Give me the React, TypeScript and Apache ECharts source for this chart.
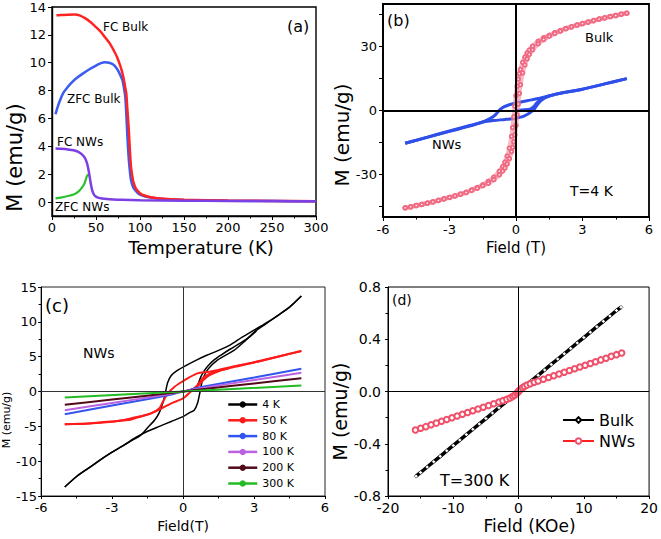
import React, { useEffect, useRef } from "react";
import * as echarts from "echarts";

type P = [number, number];
const FONT = "DejaVu Sans";

// ---------- Panel (a): M vs Temperature ----------
const aFcBulk: P[] = [[5,13.4],[10,13.42],[18,13.45],[26,13.46],[32,13.38],[38,13.18],[44,12.9],[50,12.55],[55,12.25],[60,11.85],[66,11.35],[70,10.9],[74,10.4],[78,9.7],[81,9.0],[83,8.3],[84.4,7.8],[85.5,6.8],[87,5.45],[88,4.3],[88.9,3.3],[90,2.4],[91.9,1.6],[94,1.15],[96,0.9],[100,0.64],[105,0.47],[112,0.35],[120,0.28],[135,0.21],[150,0.17],[200,0.11],[250,0.08],[300,0.06]];
const aZfcBulk: P[] = [[4,6.3],[6,6.75],[9.5,7.36],[13,7.85],[17,8.19],[22,8.55],[28,8.9],[35,9.22],[43,9.55],[50,9.8],[55,9.95],[60,10.03],[65,10.0],[70,9.85],[74,9.55],[77,9.2],[80,8.75],[81.5,8.3],[83.2,7.6],[84.2,6.6],[85.1,5.45],[86,4.3],[87,3.3],[88.2,2.4],[89.7,1.6],[92,1.1],[94.6,0.85],[98,0.62],[102,0.48],[110,0.34],[120,0.26],[135,0.19],[150,0.15],[200,0.1],[250,0.07],[300,0.05]];
const aFcNws: P[] = [[4,3.84],[10,3.82],[18,3.78],[24.5,3.72],[30,3.6],[34,3.42],[37,3.2],[39.7,2.82],[41.5,2.3],[42.7,1.86],[44,1.35],[45.4,0.91],[47,0.62],[49,0.43],[53,0.3],[62,0.22],[80,0.16],[100,0.13],[150,0.1],[200,0.08],[250,0.07],[300,0.06]];
const aZfcNws: P[] = [[4,0.26],[10,0.32],[17,0.42],[24.5,0.55],[30,0.75],[34,1.03],[37,1.35],[39.7,1.86],[41,1.95],[42.7,1.86]];
const aYLabels = [0, 2, 4, 6, 8, 10, 12, 14];

// ---------- Panel (b): hysteresis at 4 K ----------
const bBulkDown: P[] = [[5,45.7],[4.75,45.2],[4.5,44.6],[4.25,44.1],[4,43.5],[3.75,42.9],[3.5,42.2],[3.25,41.5],[3,40.8],[2.75,40.1],[2.5,39.3],[2.25,38.5],[2,37.5],[1.75,36.5],[1.5,35.3],[1.25,34.2],[1,32.5],[0.75,30.2],[0.6,28.4],[0.5,27.0],[0.4,25.1],[0.3,22.6],[0.2,19.3],[0.15,17.3],[0.1,14.7],[0.05,11.4],[0,7.0],[-0.05,2.0],[-0.1,-3.0],[-0.15,-8.0],[-0.2,-12.1],[-0.3,-17.7],[-0.4,-21.4],[-0.5,-24.2],[-0.6,-26.3],[-0.75,-28.5],[-1,-31.3],[-1.25,-33.3],[-1.5,-34.9],[-1.75,-36.2],[-2,-37.3],[-2.25,-38.4],[-2.5,-39.3],[-2.75,-40.1],[-3,-40.8],[-3.25,-41.5],[-3.5,-42.2],[-3.75,-42.9],[-4,-43.5],[-4.25,-44.1],[-4.5,-44.6],[-4.75,-45.2],[-5,-45.7]];
const bBulkUp: P[] = [[-5,-45.7],[-4.75,-45.2],[-4.5,-44.6],[-4.25,-44.1],[-4,-43.5],[-3.75,-42.9],[-3.5,-42.2],[-3.25,-41.5],[-3,-40.8],[-2.75,-40.1],[-2.5,-39.3],[-2.25,-38.5],[-2,-37.5],[-1.75,-36.5],[-1.5,-35.3],[-1.25,-34.2],[-1,-32.5],[-0.75,-30.2],[-0.6,-28.4],[-0.5,-27.0],[-0.4,-25.1],[-0.3,-22.6],[-0.2,-19.3],[-0.15,-17.3],[-0.1,-14.7],[-0.05,-11.4],[0,-7.0],[0.05,-2.0],[0.1,3.0],[0.15,8.0],[0.2,12.1],[0.3,17.7],[0.4,21.4],[0.5,24.2],[0.6,26.3],[0.75,28.5],[1,31.3],[1.25,33.3],[1.5,34.9],[1.75,36.2],[2,37.3],[2.25,38.4],[2.5,39.3],[2.75,40.1],[3,40.8],[3.25,41.5],[3.5,42.2],[3.75,42.9],[4,43.5],[4.25,44.1],[4.5,44.6],[4.75,45.2],[5,45.7]];
const bNwDown: P[] = [[5,14.95],[4,12.5],[3,10.0],[2,8.1],[1.5,6.9],[1,5.6],[0.5,4.6],[0,3.5],[-0.3,2.7],[-0.57,1.6],[-0.7,0.6],[-0.8,-0.5],[-0.9,-1.7],[-1.02,-2.8],[-1.2,-3.9],[-1.47,-5.2],[-2,-6.8],[-3,-9.6],[-4,-12.5],[-5,-15.4]];
const bNwUp: P[] = [[-5,-15.4],[-4,-12.6],[-3,-9.8],[-2,-7.1],[-1.47,-5.4],[-1,-4.7],[-0.5,-4.2],[0,-3.6],[0.3,-2.9],[0.5,-1.9],[0.65,-0.9],[0.8,0.4],[0.9,1.8],[1.0,3.2],[1.1,4.4],[1.3,5.9],[1.55,6.9],[2,8.1],[3,10.0],[4,12.5],[5,14.95]];
const bNwVirgin: P[] = [[0,0],[0.33,0.3],[0.63,0.6],[0.8,1.8],[0.93,3.5],[1.05,4.6],[1.23,5.8],[1.5,6.8]];
const bYLabels = [-30, 0, 30];
const bYTicks = [-45, -30, -15, 0, 15, 30, 45];

// ---------- Panel (c): NWs loops at several temperatures ----------
const c4Down: P[] = [[5,13.7],[4.5,12.1],[4,10.9],[3.5,9.8],[3,8.8],[2.5,7.8],[2,6.7],[1.5,5.9],[1,5.2],[0.5,4.4],[0,3.5],[-0.3,2.9],[-0.5,2.3],[-0.65,1.3],[-0.75,-0.2],[-0.85,-1.6],[-1,-3.0],[-1.2,-4.1],[-1.5,-5.2],[-1.8,-6.3],[-2.2,-7.1],[-2.6,-7.9],[-3,-8.7],[-3.5,-9.8],[-4,-11.0],[-4.5,-12.2],[-5,-13.7]];
const c4Up: P[] = [[-5,-13.7],[-4.5,-12.2],[-4,-11.0],[-3.5,-9.8],[-3,-8.7],[-2.5,-7.7],[-2,-6.6],[-1.5,-5.7],[-1,-5.0],[-0.5,-4.3],[0,-3.6],[0.3,-3.0],[0.47,-2.7],[0.61,-1.7],[0.72,0],[0.82,1.6],[1.03,3.1],[1.45,4.5],[2.15,5.9],[2.6,7.2],[3,8.5],[3.5,9.7],[4,10.9],[4.5,12.1],[5,13.7]];
const c4Virgin: P[] = [[0,0],[0.33,0.25],[0.55,0.6],[0.65,1.2],[0.75,2.1],[0.88,2.9],[1.03,3.6],[1.3,4.5],[1.59,5.2],[2,6.1],[2.4,6.9],[2.8,7.8],[3.1,8.7]];
const c50Down: P[] = [[5,5.8],[4,5.0],[3,4.2],[2,3.5],[1.45,3.05],[1,2.8],[0.61,2.6],[0.19,1.9],[0,1.5],[-0.37,0.66],[-0.65,-0.3],[-0.86,-1.5],[-1,-2.4],[-1.35,-3.15],[-2,-3.8],[-2.33,-4.1],[-3,-4.3],[-3.45,-4.4],[-4,-4.6],[-5,-4.7]];
const c50Up: P[] = [[-5,-4.7],[-4,-4.6],[-3,-4.35],[-2.5,-4.1],[-2,-3.7],[-1.5,-3.3],[-1,-2.6],[-0.5,-1.7],[0,-1.0],[0.33,0],[0.61,0.9],[0.89,2.1],[1.31,2.8],[2,3.4],[3,4.15],[4,5.0],[5,5.8]];
const c50Virgin: P[] = [[0,0],[0.3,0.2],[0.6,0.7],[0.85,1.6],[1.1,2.3],[1.5,2.9],[2,3.4]];
const c80: P[] = [[-5,-3.25],[-3,-2.0],[-1,-0.8],[-0.5,-0.45],[0,0],[0.5,0.45],[1,0.8],[3,2.0],[5,3.25]];
const c100: P[] = [[-5,-2.7],[-3,-1.65],[-1,-0.6],[0,0],[1,0.6],[3,1.65],[5,2.7]];
const c200: P[] = [[-5,-1.9],[-3,-1.15],[-1,-0.4],[0,0],[1,0.4],[3,1.15],[5,1.9]];
const c300: P[] = [[-5,-0.85],[0,0],[5,0.85]];
const cLegend = ["4 K", "50 K", "80 K", "100 K", "200 K", "300 K"];

// ---------- Panel (d): room temperature M(H) ----------
const dBulk: P[] = [[-15.7,-0.648],[-15,-0.62],[-14,-0.578],[-13,-0.537],[-12,-0.496],[-11,-0.454],[-10,-0.413],[-9,-0.372],[-8,-0.33],[-7,-0.289],[-6,-0.248],[-5,-0.207],[-4,-0.165],[-3,-0.124],[-2,-0.083],[-1,-0.041],[0,0],[1,0.041],[2,0.083],[3,0.124],[4,0.165],[5,0.207],[6,0.248],[7,0.289],[8,0.33],[9,0.372],[10,0.413],[11,0.454],[12,0.496],[13,0.537],[14,0.578],[15,0.62],[15.7,0.645]];
const dNws: P[] = [[-15.8,-0.295],[-15,-0.282],[-14.2,-0.269],[-13.4,-0.255],[-12.6,-0.242],[-11.8,-0.228],[-11,-0.215],[-10.2,-0.201],[-9.4,-0.188],[-8.6,-0.174],[-7.8,-0.161],[-7,-0.148],[-6.2,-0.134],[-5.4,-0.121],[-4.6,-0.107],[-3.8,-0.094],[-3,-0.08],[-2.4,-0.07],[-1.8,-0.06],[-1.3,-0.05],[-0.9,-0.039],[-0.6,-0.029],[-0.3,-0.016],[-0.1,-0.005],[0,0],[0.1,0.005],[0.3,0.016],[0.6,0.029],[0.9,0.039],[1.3,0.05],[1.8,0.06],[2.4,0.07],[3,0.08],[3.8,0.094],[4.6,0.107],[5.4,0.121],[6.2,0.134],[7,0.148],[7.8,0.161],[8.6,0.174],[9.4,0.188],[10.2,0.201],[11,0.215],[11.8,0.228],[12.6,0.242],[13.4,0.255],[14.2,0.269],[15,0.282],[15.8,0.295]];
const dLegend = ["Bulk", "NWs"];

function axis(o: any) {
  return {
    type: "value",
    gridIndex: o.grid,
    min: o.min,
    max: o.max,
    interval: o.interval,
    name: o.name,
    nameLocation: "middle",
    nameGap: o.nameGap,
    nameRotate: o.rotate ? 90 : 0,
    nameTextStyle: { fontFamily: FONT, fontSize: o.nameSize, fontWeight: "normal", color: "#000", padding: o.namePad || 0 },
    axisLine: { show: true, onZero: false, lineStyle: { color: "#000", width: o.lw || 1.2 } },
    axisTick: { show: true, length: o.tickLen || 4, lineStyle: { color: "#000", width: 1 }, ...(o.tickValues ? { customValues: o.tickValues } : {}) },
    minorTick: { show: !!o.minor, splitNumber: 2, length: 2.5, lineStyle: { color: "#000", width: 1 } },
    splitLine: { show: false },
    axisLabel: {
      color: "#000",
      fontFamily: FONT,
      fontSize: o.fontSize,
      fontWeight: "normal",
      margin: o.margin,
      ...(o.labelValues ? { customValues: o.labelValues } : {}),
      ...(o.formatter ? { formatter: o.formatter } : {}),
    },
  };
}

function line(name: string, data: P[], idx: number, color: string, width: number, extra: any = {}) {
  return {
    type: "line",
    name,
    data,
    xAxisIndex: idx,
    yAxisIndex: idx,
    symbol: "none",
    showSymbol: false,
    smooth: 0.25,
    lineStyle: { color, width },
    itemStyle: { color },
    emphasis: { disabled: true },
    z: 3,
    ...extra,
  };
}

function zeroLines(idx: number, width: number, color: string) {
  return {
    type: "line",
    name: "_zero" + idx,
    data: [],
    xAxisIndex: idx,
    yAxisIndex: idx,
    z: 1,
    markLine: {
      silent: true,
      symbol: ["none", "none"],
      label: { show: false },
      emphasis: { disabled: true },
      lineStyle: { color, width, type: "solid" },
      data: [{ xAxis: 0 }, { yAxis: 0 }],
    },
  };
}

function txt(text: string, x: number, y: number, size: number) {
  return {
    type: "text",
    x,
    y,
    style: { text, fontFamily: FONT, fontSize: size, fill: "#000", textAlign: "left", align: "left", textVerticalAlign: "middle", verticalAlign: "middle" },
  };
}

export default function App() {
  const ref = useRef<HTMLDivElement>(null);
  useEffect(() => {
    if (!ref.current) return;
    const chart = echarts.init(ref.current, undefined, { renderer: "svg" });
    const red = "#ff2424";
    const blueA = "#3a5cf2";
    const purpleA = "#7b3fe4";
    const greenA = "#2ec02e";
    const bulkSym = { symbol: "emptyCircle", showSymbol: true, symbolSize: 3.5, itemStyle: { color: "#f06a82", borderWidth: 0.9 } };
    const option: any = {
      animation: false,
      backgroundColor: "#fff",
      grid: [
        { left: 52, top: 7, width: 264, height: 209, show: true, borderColor: "#000", borderWidth: 1.4, backgroundColor: "transparent" },
        { left: 383, top: 4, width: 266, height: 213, show: true, borderColor: "#000", borderWidth: 1.8, backgroundColor: "transparent" },
        { left: 39, top: 287, width: 286, height: 209, show: true, borderColor: "#222", borderWidth: 1, backgroundColor: "transparent" },
        { left: 388, top: 287, width: 263, height: 209, show: true, borderColor: "#000", borderWidth: 1, backgroundColor: "transparent" },
      ],
      xAxis: [
        axis({ grid: 0, min: 0, max: 300, interval: 50, minor: true, fontSize: 13, margin: 5, name: "Temperature (K)", nameSize: 18, nameGap: 22, lw: 1.4, namePad: [0, 0, 0, 34] }),
        axis({ grid: 1, min: -6, max: 6, interval: 3, minor: true, fontSize: 13, margin: 6, name: "Field (T)", nameSize: 15, nameGap: 23, lw: 1.8 }),
        axis({ grid: 2, min: -6, max: 6, interval: 3, minor: true, fontSize: 13, margin: 5, name: "Field(T)", nameSize: 14, nameGap: 23, lw: 1, tickLen: 3 }),
        axis({ grid: 3, min: -20, max: 20, interval: 10, minor: true, fontSize: 14, margin: 5, name: "Field (KOe)", nameSize: 17, nameGap: 21, lw: 1, tickLen: 3, namePad: [0, 0, 0, 22] }),
      ],
      yAxis: [
        axis({ grid: 0, min: -1, max: 14, fontSize: 13, margin: 6, name: "M (emu/g)", nameSize: 21, nameGap: 24, rotate: true, lw: 1.4, labelValues: aYLabels, tickValues: aYLabels, namePad: [0, 92, 0, 0] }),
        axis({ grid: 1, min: -50, max: 50, fontSize: 13, margin: 6, name: "M (emu/g)", nameSize: 20, nameGap: 23, rotate: true, lw: 1.8, labelValues: bYLabels, tickValues: bYTicks, namePad: [0, 49, 0, 0] }),
        axis({ grid: 2, min: -15, max: 15, interval: 5, minor: true, fontSize: 13, margin: 4, name: "M (emu/g)", nameSize: 11, nameGap: 27, rotate: true, lw: 1, tickLen: 3, namePad: [0, 57, 0, 0] }),
        axis({ grid: 3, min: -0.8, max: 0.8, interval: 0.4, minor: true, fontSize: 14, margin: 7, name: "M (emu/g)", nameSize: 19, nameGap: 29, rotate: true, lw: 1, tickLen: 3, formatter: (v: number) => v.toFixed(1), namePad: [0, 40, 0, 0] }),
      ],
      legend: [
        {
          data: cLegend,
          orient: "vertical",
          left: 222,
          top: 394,
          itemWidth: 29,
          itemHeight: 8,
          itemGap: 4.8,
          textStyle: { fontFamily: FONT, fontSize: 11, color: "#000" },
          lineStyle: { width: 2.5 },
          selectedMode: false,
        },
        {
          data: dLegend,
          orient: "vertical",
          left: 557,
          top: 407,
          itemWidth: 31,
          itemHeight: 7,
          itemGap: 5,
          textStyle: { fontFamily: FONT, fontSize: 16, color: "#000" },
          selectedMode: false,
        },
      ],
      series: [
        // (a)
        line("ZFC Bulk", aZfcBulk, 0, blueA, 2.5),
        line("FC Bulk", aFcBulk, 0, red, 2.5),
        line("ZFC NWs", aZfcNws, 0, greenA, 2.2),
        line("FC NWs", aFcNws, 0, purpleA, 2.5),
        // (b)
        zeroLines(1, 2, "#000"),
        line("NWs 4K down", bNwDown, 1, "#2f4fe8", 3),
        line("NWs 4K up", bNwUp, 1, "#2f4fe8", 3),
        line("NWs 4K virgin", bNwVirgin, 1, "#2f4fe8", 3),
        line("Bulk 4K down", bBulkDown, 1, "rgba(244,140,160,0.6)", 4.5, bulkSym),
        line("Bulk 4K up", bBulkUp, 1, "rgba(244,140,160,0.6)", 4.5, bulkSym),
        // (c)
        zeroLines(2, 1, "#333"),
        line("4 K", c4Down, 2, "#000000", 1.5),
        line("4 K", c4Up, 2, "#000000", 1.5),
        line("4 K", c4Virgin, 2, "#000000", 1.5),
        line("50 K", c50Down, 2, "#ff1a1a", 2),
        line("50 K", c50Up, 2, "#ff1a1a", 2),
        line("50 K", c50Virgin, 2, "#ff1a1a", 2),
        line("80 K", c80, 2, "#3355ee", 2),
        line("100 K", c100, 2, "#bb62e2", 2),
        line("200 K", c200, 2, "#520a1a", 2),
        line("300 K", c300, 2, "#22bb22", 2),
        // (d)
        zeroLines(3, 1, "#000"),
        line("Bulk", dBulk, 3, "#000000", 3.5, { smooth: false, symbol: "diamond", showSymbol: true, symbolSize: 4, itemStyle: { color: "#ffffff", borderColor: "#000", borderWidth: 0.5 } }),
        line("NWs", dNws, 3, "#ff2020", 1, { smooth: false, symbol: "emptyCircle", showSymbol: true, symbolSize: 5.5, itemStyle: { color: "#f0506a", borderWidth: 1 } }),
      ],
      graphic: [
        txt("(a)", 287, 26, 16),
        txt("FC Bulk", 103, 27, 12),
        txt("ZFC Bulk", 67, 99, 12),
        txt("FC NWs", 57, 142, 12),
        txt("ZFC NWs", 55, 207, 12),
        txt("(b)", 387, 20, 16),
        txt("Bulk", 585, 37, 13),
        txt("NWs", 432, 144, 13),
        txt("T=4 K", 570, 191, 14),
        txt("(c)", 45, 305, 18),
        txt("NWs", 83, 353, 14),
        txt("(d)", 392, 300, 14),
        txt("T=300 K", 440, 480, 16),
      ],
    };
    chart.setOption(option);
    return () => chart.dispose();
  }, []);
  return <div ref={ref} style={{ position: "absolute", left: 0, top: 0, width: 661, height: 539 }} />;
}
